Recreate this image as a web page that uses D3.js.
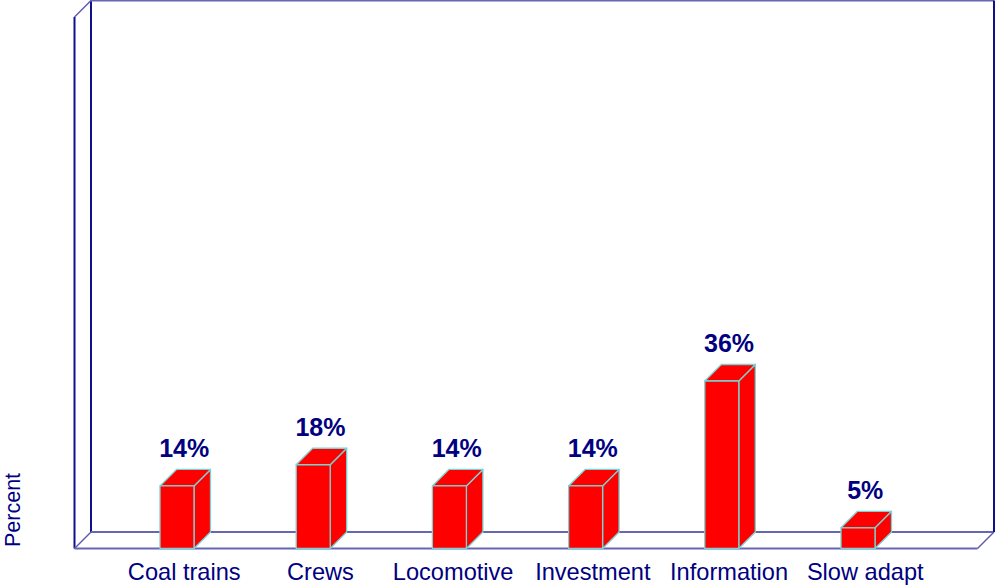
<!DOCTYPE html>
<html>
<head>
<meta charset="utf-8">
<script src="https://cdn.jsdelivr.net/npm/d3@7"></script>
<style>
html, body { margin: 0; padding: 0; background: #fff; }
svg { display: block; }
text { font-family: "Liberation Sans", Arial, sans-serif; fill: #000080; }
</style>
</head>
<body>
<svg width="997" height="587"></svg>
<script>
const categories = ["Coal trains", "Crews", "Locomotive", "Investment", "Information", "Slow adapt"];
const percents = [13.6, 18.2, 13.6, 13.6, 36.4, 4.5];

const svg = d3.select("svg");

const depth = 16.5;
const barW = 34;
const floorY = 548.5;

const xScale = d3.scalePoint().domain(categories).range([177, 858]);
const yScale = d3.scaleLinear().domain([0, 115.5]).range([floorY, 17]);

// box behind the bars
const left = 74.5, right = 977.5;
const top3d = yScale(115.5);
const lines = [
  [left, top3d, left, floorY, "#10108c", 2],
  [left + depth, top3d - depth, left + depth, floorY - depth, "#10108c", 2],
  [left, top3d, left + depth, top3d - depth, "#5a5ab0", 1.4],
  [left, floorY, left + depth, floorY - depth, "#5a5ab0", 1.4],
  [left + depth, top3d - depth, right + depth, top3d - depth, "#6666b4", 2],
  [left + depth, floorY - depth, right + depth, floorY - depth, "#6666b4", 2],
  [left, floorY, right, floorY, "#6666b4", 2],
  [right, floorY, right + depth, floorY - depth, "#5a5ab0", 1.4],
  [right + depth, top3d - depth, right + depth, floorY - depth, "#10108c", 2]
];

svg.append("g")
  .selectAll("line")
  .data(lines)
  .enter()
  .append("line")
  .attr("x1", d => d[0])
  .attr("y1", d => d[1])
  .attr("x2", d => d[2])
  .attr("y2", d => d[3])
  .attr("stroke", d => d[4])
  .attr("stroke-width", d => d[5]);

const rows = categories.map((c, i) => ({name: c, value: percents[i]}));

const bars = svg.append("g")
  .selectAll("g")
  .data(rows)
  .enter()
  .append("g")
  .attr("fill", "#ff0000")
  .attr("stroke", "#78d4d4")
  .attr("stroke-width", 1.3)
  .attr("stroke-linejoin", "round");

// side face
bars.append("path")
  .attr("d", d => {
    const x1 = xScale(d.name) + barW / 2, y0 = yScale(d.value);
    return `M${x1},${floorY}L${x1 + depth},${floorY - depth}L${x1 + depth},${y0 - depth}L${x1},${y0}Z`;
  });

// top face
bars.append("path")
  .attr("d", d => {
    const x0 = xScale(d.name) - barW / 2, x1 = x0 + barW, y0 = yScale(d.value);
    return `M${x0},${y0}L${x0 + depth},${y0 - depth}L${x1 + depth},${y0 - depth}L${x1},${y0}Z`;
  });

// front face
bars.append("rect")
  .attr("x", d => xScale(d.name) - barW / 2)
  .attr("y", d => yScale(d.value))
  .attr("width", barW)
  .attr("height", d => floorY - yScale(d.value));

svg.append("g")
  .selectAll("text")
  .data(rows)
  .enter()
  .append("text")
  .attr("x", d => xScale(d.name) + depth / 2 - 1)
  .attr("y", d => yScale(d.value) - depth - 12)
  .attr("text-anchor", "middle")
  .attr("font-size", 25)
  .attr("font-weight", "bold")
  .text(d => Math.round(d.value) + "%");

svg.append("g")
  .selectAll("text")
  .data(categories)
  .enter()
  .append("text")
  .attr("x", d => xScale(d) + depth / 2 - 1)
  .attr("dx", d => d === "Locomotive" ? -3.5 : 0)
  .attr("y", 580)
  .attr("text-anchor", "middle")
  .attr("font-size", 23.6)
  .text(d => d);

svg.append("text")
  .attr("transform", "translate(20,547) rotate(-90)")
  .attr("font-size", 21.5)
  .text("Percent");
</script>
</body>
</html>
